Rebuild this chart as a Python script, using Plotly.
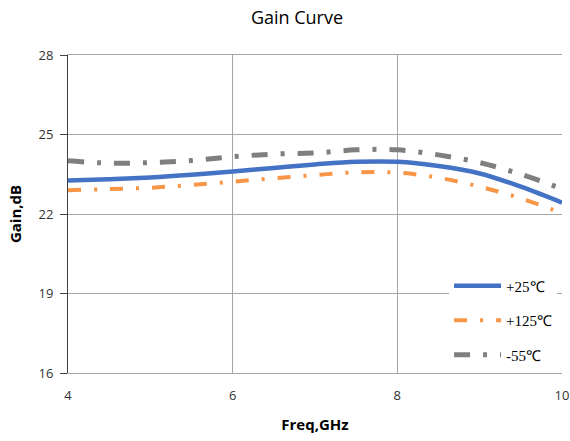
import plotly.graph_objects as go

freq = [4.0, 4.5, 5.0, 5.5, 6.0, 6.5, 7.0, 7.5, 8.0, 8.5, 9.0, 9.5, 10.0]
gain_25 = [23.26, 23.31, 23.38, 23.48, 23.6, 23.74, 23.87, 23.97, 23.97, 23.81, 23.53, 23.03, 22.43]
gain_125 = [22.9, 22.94, 22.99, 23.1, 23.22, 23.35, 23.47, 23.57, 23.56, 23.37, 23.03, 22.59, 22.03]
gain_m55 = [24.01, 23.92, 23.94, 24.02, 24.16, 24.26, 24.3, 24.42, 24.42, 24.23, 23.94, 23.5, 22.95]
names = ["+25℃", "+125℃", "-55℃"]

fig = go.Figure()
fig.add_trace(go.Scatter(x=freq, y=gain_25, name=names[0], mode="lines", legendgroup="a",
                         line=dict(color="#4472C4", width=4.5, shape="spline")))
fig.add_trace(go.Scatter(x=freq, y=gain_125, name=names[1], mode="lines", legendgroup="b",
                         line=dict(color="#F79646", width=4, shape="spline", dash="13px,13px,3px,13px")))
fig.add_trace(go.Scatter(x=freq, y=gain_m55, name=names[2], mode="lines", legendgroup="c",
                         line=dict(color="#7F7F7F", width=5, shape="spline", dash="16px,13px,4px,13px")))

fig.update_layout(
    width=570, height=441,
    margin=dict(l=68, r=8, t=55, b=68, autoexpand=False),
    paper_bgcolor="white", plot_bgcolor="white",
    title=dict(text="Gain Curve", x=0.521, xanchor="center", y=0.96, yanchor="middle",
               font=dict(family="Open Sans", size=18, color="#000000")),
    showlegend=True,
    legend=dict(x=0.99, y=0.005, xanchor="right", yanchor="bottom", bgcolor="white",
                font=dict(family="Liberation Serif", size=15, color="#000000"),
                tracegroupgap=12, itemwidth=47),
    xaxis=dict(range=[4, 10], tickvals=[4, 6, 8, 10], showgrid=True, gridcolor="#A6A6A6",
               gridwidth=1, zeroline=False, showline=True, linecolor="#A6A6A6", automargin=False,
               tickfont=dict(family="Open Sans", size=13, color="#333333"),
               title=dict(text="<b>Freq,GHz</b>", font=dict(family="Open Sans", size=15, color="#000000"),
                          standoff=16), mirror=True, ticks="outside", ticklen=10, tickcolor="rgba(0,0,0,0)"),
    yaxis=dict(range=[16, 28], tickvals=[16, 19, 22, 25, 28], showgrid=True, gridcolor="#A6A6A6",
               gridwidth=1, zeroline=False, showline=True, linecolor="#404040", automargin=False,
               ticks="outside", ticklen=7, tickcolor="#404040", ticklabelstandoff=4,
               tickfont=dict(family="Open Sans", size=13, color="#333333"),
               title=dict(text="<b>Gain,dB</b>", font=dict(family="Open Sans", size=15, color="#000000"),
                          standoff=13)),
)
fig.write_html("out.html", config={"displayModeBar": False},
               post_script="document.body.style.margin='0';")
